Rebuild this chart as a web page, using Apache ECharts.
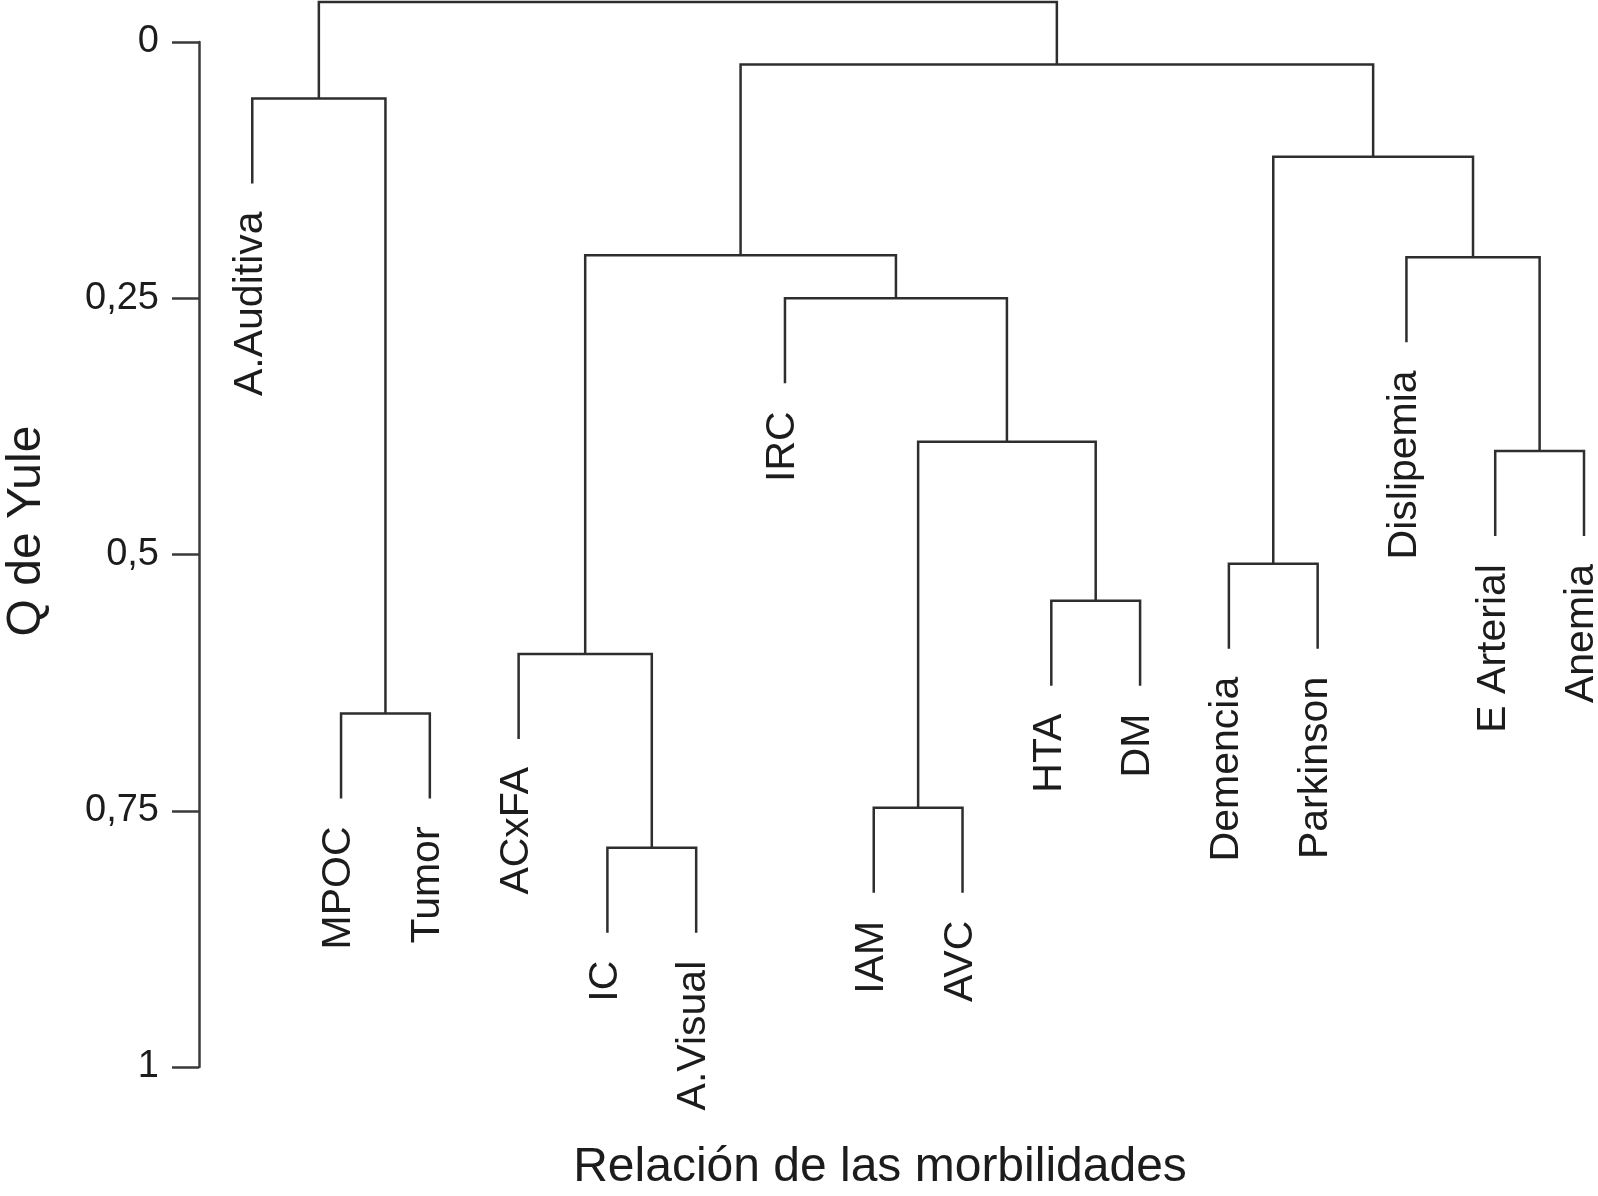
<!DOCTYPE html>
<html>
<head>
<meta charset="utf-8">
<script src="https://cdn.jsdelivr.net/npm/echarts@6/dist/echarts.min.js"></script>
<style>
  html, body { margin: 0; padding: 0; background: #fff; }
  #main { width: 1598px; height: 1196px; }
</style>
</head>
<body>
<div id="main"></div>
<script>
// hojas del dendrograma, de izquierda a derecha
const leaves = ['A.Auditiva', 'MPOC', 'Tumor', 'ACxFA', 'IC', 'A.Visual', 'IRC', 'IAM', 'AVC',
  'HTA', 'DM', 'Demencia', 'Parkinson', 'Dislipemia', 'E Arterial', 'Anemia'];

// uniones (estilo hclust): negativo = hoja, positivo = union previa
const mergeLeft  = [-5, -8, -2, -4, -10, -12, -15, 2, -7, -14, 4, 6, -1, 11, 13];
const mergeRight = [-6, -9, -3,  1, -11, -13, -16, 5,  8,   7, 9, 10, 3, 12, 14];
const mergeHeight = [0.786, 0.747, 0.655, 0.597, 0.545, 0.509, 0.399, 0.390, 0.250,
  0.210, 0.208, 0.112, 0.055, 0.022, -0.039];

const yTicks = [0, 0.25, 0.5, 0.75, 1];
const yTickLabels = ['0', '0,25', '0,5', '0,75', '1'];

const HANG = 0.083; // largo de las ramas terminales
const FONT = '"Liberation Sans", Arial, Helvetica, sans-serif';
const INK = '#2e2e2e';

// posicion x de cada nodo (hojas = 1..16, uniones = punto medio)
const mergeX = [];
const leafEnd = [];
function nodeX(n) { return n < 0 ? -n : mergeX[n - 1]; }
mergeHeight.forEach((h, i) => {
  mergeX.push((nodeX(mergeLeft[i]) + nodeX(mergeRight[i])) / 2);
  [mergeLeft[i], mergeRight[i]].forEach(n => { if (n < 0) leafEnd[-n - 1] = h + HANG; });
});
function nodeY(n) { return n < 0 ? leafEnd[-n - 1] : mergeHeight[n - 1]; }

const linkData = mergeHeight.map((h, i) => [
  nodeX(mergeLeft[i]), nodeY(mergeLeft[i]), nodeX(mergeRight[i]), nodeY(mergeRight[i]), h
]);
const leafData = leaves.map((name, i) => [i + 1, leafEnd[i]]);

const chart = echarts.init(document.getElementById('main'));
chart.setOption({
  backgroundColor: '#fff',
  animation: false,
  grid: { left: 199, right: 14, top: 42, bottom: 129 },
  xAxis: { type: 'value', min: 0.4, max: 16, show: false },
  yAxis: {
    type: 'value',
    inverse: true,
    min: 0,
    max: 1,
    interval: 0.25,
    splitLine: { show: false },
    axisLine: { show: true, lineStyle: { color: '#3a3a3a', width: 2.5 } },
    axisTick: { show: true, length: 27, lineStyle: { color: '#3a3a3a', width: 2.5 } },
    axisLabel: {
      margin: 40,
      fontSize: 38,
      fontFamily: FONT,
      color: '#1c1c1c',
      formatter: v => yTickLabels[yTicks.indexOf(v)]
    }
  },
  graphic: [
    {
      type: 'text', x: 27, y: 531, rotation: Math.PI / 2,
      style: { text: 'Q de Yule', font: '48px ' + FONT, fill: '#1c1c1c', align: 'center', verticalAlign: 'middle' }
    },
    {
      type: 'text', x: 880, y: 1168,
      style: { text: 'Relación de las morbilidades', font: '48px ' + FONT, fill: '#1c1c1c', align: 'center', verticalAlign: 'middle' }
    }
  ],
  series: [
    {
      type: 'custom',
      clip: false,
      data: linkData,
      renderItem: (params, api) => {
        const a = api.coord([api.value(0), api.value(1)]);
        const b = api.coord([api.value(0), api.value(4)]);
        const c = api.coord([api.value(2), api.value(4)]);
        const d = api.coord([api.value(2), api.value(3)]);
        return {
          type: 'polyline',
          shape: { points: [a, b, c, d] },
          style: { stroke: INK, lineWidth: 2.5, fill: null }
        };
      }
    },
    {
      type: 'custom',
      clip: false,
      data: leafData,
      renderItem: (params, api) => {
        const p = api.coord([api.value(0), api.value(1)]);
        return {
          type: 'text',
          x: p[0] - 2,
          y: p[1] + 28,
          rotation: Math.PI / 2,
          style: {
            text: leaves[params.dataIndex],
            font: '41px ' + FONT,
            fill: '#1c1c1c',
            align: 'right',
            verticalAlign: 'middle'
          }
        };
      }
    }
  ]
});
</script>
</body>
</html>
